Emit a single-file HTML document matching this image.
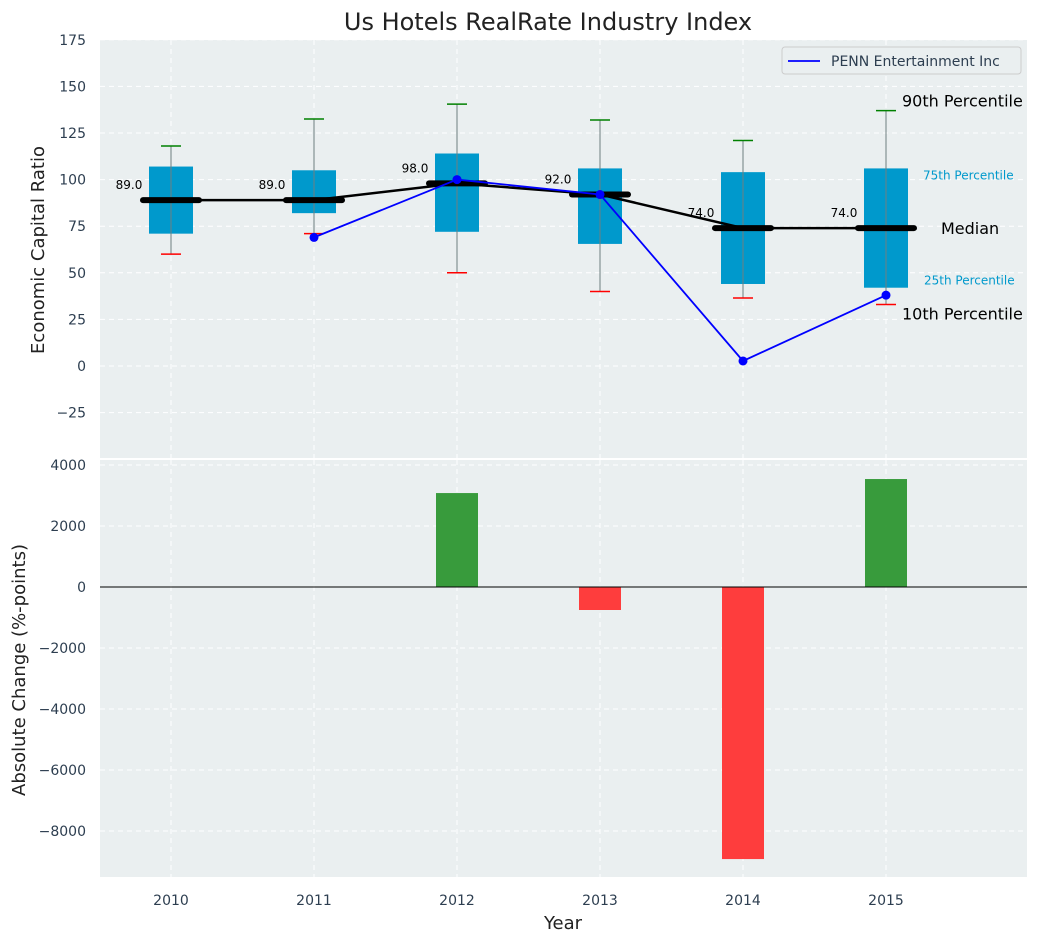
<!DOCTYPE html>
<html><head><meta charset="utf-8"><style>
body{margin:0;background:#fff;font-family:"Liberation Sans","DejaVu Sans",sans-serif}
svg text{font-family:"DejaVu Sans","Liberation Sans",sans-serif}
</style></head><body>
<svg id="c" width="1039" height="942" xmlns="http://www.w3.org/2000/svg"></svg>
<script>
const years=[2010,2011,2012,2013,2014,2015];
const p10=[60,71,50,40,36.5,33];
const q1=[71,82,72,65.5,44,42];
const med=[89,89,98,92,74,74];
const q3=[107,105,114,106,104,106];
const p90=[118,132.5,140.5,132,121,137];
const pennYears=[2011,2012,2013,2014,2015];
const penn=[69,100,92,2.7,38];
const changeYears=[2012,2013,2014,2015];
const changes=[3080,-754,-8920,3540];
const topTicks=[175,150,125,100,75,50,25,0,-25];
const botTicks=[4000,2000,0,-2000,-4000,-6000,-8000];

const NS="http://www.w3.org/2000/svg";
const svg=document.getElementById('c');
function el(t,a,parent){const e=document.createElementNS(NS,t);for(const k in a)e.setAttribute(k,a[k]);(parent||svg).appendChild(e);return e;}
const L=100,R=1027;
const x=v=>171+(v-2010)*143;
const T0=40,T1=458;
const yT=v=>366-v*1.864;
const B0=460,B1=877;
const yB=v=>587-v*0.0305;

let e;
e=el('rect',{x:L,y:T0,width:R-L,height:T1-T0,fill:'#eaeff0'});

e=el('rect',{x:L,y:B0,width:R-L,height:B1-B0,fill:'#eaeff0'});


topTicks.forEach(t=>{
 e=el('line',{x1:L,x2:R,y1:yT(t),y2:yT(t),stroke:'#fff','stroke-dasharray':'5,4','stroke-width':1});
 
 e=el('text',{x:L-14,y:yT(t)+5,'text-anchor':'end','font-size':14,fill:'#2d3e50'});
 e.textContent=t<0?'\u2212'+(-t):t;
 
});
botTicks.forEach(t=>{
 e=el('line',{x1:L,x2:R,y1:yB(t),y2:yB(t),stroke:'#fff','stroke-dasharray':'5,4','stroke-width':1});
 
 e=el('text',{x:L-14,y:yB(t)+5,'text-anchor':'end','font-size':14,fill:'#2d3e50'});
 e.textContent=t<0?'\u2212'+(-t):t;
 
});
years.forEach(yr=>{
 [[T0,T1],[B0,B1]].forEach(r=>{
  e=el('line',{x1:x(yr),x2:x(yr),y1:r[0],y2:r[1],stroke:'#fff','stroke-dasharray':'5,4','stroke-width':1});
  
 });
 e=el('text',{x:x(yr),y:905,'text-anchor':'middle','font-size':14,fill:'#2d3e50'});
 e.textContent=yr;
 
});

years.forEach((yr,i)=>{
 const cx=x(yr);
 e=el('rect',{x:cx-22,y:yT(q3[i]),width:44,height:yT(q1[i])-yT(q3[i]),fill:'#0099cc'});
 
 e=el('line',{x1:cx,x2:cx,y1:yT(p10[i]),y2:yT(p90[i]),stroke:'#6f7f80','stroke-width':1});
 
 e=el('line',{x1:cx-10,x2:cx+10,y1:yT(p90[i]),y2:yT(p90[i]),stroke:'green','stroke-width':1.5});
 
 e=el('line',{x1:cx-10,x2:cx+10,y1:yT(p10[i]),y2:yT(p10[i]),stroke:'red','stroke-width':1.5});
 
});
e=el('polyline',{points:years.map((yr,i)=>x(yr)+','+yT(med[i])).join(' '),fill:'none',stroke:'#000','stroke-width':2.5});

years.forEach((yr,i)=>{
 const cx=x(yr);
 e=el('line',{x1:cx-28,x2:cx+28,y1:yT(med[i]),y2:yT(med[i]),stroke:'#000','stroke-width':6,'stroke-linecap':'round'});
 
 e=el('text',{x:cx-42,y:yT(med[i])-11,'text-anchor':'middle','font-size':12,fill:'#000'});
 e.textContent=med[i].toFixed(1);
 
});
e=el('polyline',{points:pennYears.map((yr,i)=>x(yr)+','+yT(penn[i])).join(' '),fill:'none',stroke:'blue','stroke-width':1.8});

pennYears.forEach((yr,i)=>{
 e=el('circle',{cx:x(yr),cy:yT(penn[i]),r:4.5,fill:'blue'});
 
});
const lx=x(2015);
[['90th Percentile',lx+16,yT(p90[5])-4,16,'#000'],['75th Percentile',lx+37,yT(q3[5])+11,12,'#0099cc'],['Median',lx+55,yT(med[5])+6,16,'#000'],['25th Percentile',lx+38,yT(q1[5])-3,12,'#0099cc'],['10th Percentile',lx+16,yT(p10[5])+15,16,'#000']].forEach(a=>{
 e=el('text',{x:a[1],y:a[2],'font-size':a[3],fill:a[4]});e.textContent=a[0];
 
});
const lg=el('g',{});

el('rect',{x:782,y:47,width:239,height:27,rx:3,fill:'#eaeff0',stroke:'#ccc'},lg);
el('line',{x1:788,x2:820,y1:61,y2:61,stroke:'blue','stroke-width':1.8},lg);
e=el('text',{x:831,y:66,'font-size':14,fill:'#2d3e50'},lg);e.textContent='PENN Entertainment Inc';
changeYears.forEach((yr,i)=>{
 const v=changes[i];
 e=el('rect',{x:x(yr)-21,y:Math.min(yB(v),yB(0)),width:42,height:Math.abs(yB(v)-yB(0)),fill:v>=0?'#2e9632':'#ff3333','fill-opacity':0.95});
 
});
e=el('line',{x1:L,x2:R,y1:yB(0),y2:yB(0),stroke:'#000','stroke-width':1});

e=el('text',{x:548,y:30,'text-anchor':'middle','font-size':24,fill:'#222'});e.textContent='Us Hotels RealRate Industry Index';

e=el('text',{x:563,y:929,'text-anchor':'middle','font-size':18,fill:'#222'});e.textContent='Year';

e=el('text',{x:0,y:0,'text-anchor':'middle','font-size':18,fill:'#222',transform:'translate(44,250) rotate(-90)'});e.textContent='Economic Capital Ratio';

e=el('text',{x:0,y:0,'text-anchor':'middle','font-size':18,fill:'#222',transform:'translate(25,670) rotate(-90)'});e.textContent='Absolute Change (%-points)';

</script>
</body></html>
